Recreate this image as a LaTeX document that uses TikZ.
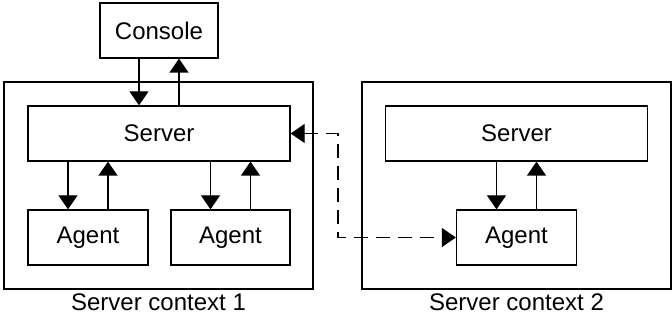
\documentclass[tikz,border=0pt]{standalone}
\usepackage{fontspec}
\setmainfont{Liberation Sans}
\usetikzlibrary{arrows.meta}
\tikzset{
  box/.style     = { draw, line width=1.3pt, minimum height=55pt, inner sep=0pt,
                     font=\fontsize{24}{28}\selectfont },
  context/.style = { draw, line width=1.3pt, minimum width=#1, minimum height=207pt, inner sep=0pt },
  caption/.style = { font=\fontsize{24}{28}\selectfont, inner sep=0pt },
  flow/.style    = { line width=1.3pt, -{Triangle[width=19pt,length=14pt]} },
  remote/.style  = { line width=1.3pt, dash pattern=on 14pt off 8pt,
                     {Triangle[width=19pt,length=14pt]}-{Triangle[width=19pt,length=14pt]} }
}
\begin{document}
\begin{tikzpicture}[x=1pt,y=-1pt]
\useasboundingbox (0,0) rectangle (672,320);
% server contexts
\node[context=309pt] (ctxA) at (158.5,185.5) {};
\node[context=309pt] (ctxB) at (516.5,185.5) {};
\node[caption] (capA) at (158.5,302) {Server context 1};
\node[caption] (capB) at (516.5,302) {Server context 2};
% boxes
\node[box,minimum width=118pt] (console) at (159,30.5) {Console};
\node[box,minimum width=262pt] (serverA) at (159,133.5) {Server};
\node[box,minimum width=262pt] (serverB) at (516.5,133.5) {Server};
\node[box,minimum width=120pt] (agentA) at (88,237.5) {Agent};
\node[box,minimum width=119pt] (agentB) at (230.5,237.5) {Agent};
\node[box,minimum width=120pt] (agentC) at (516.5,237.5) {Agent};
% arrows
\draw[flow] ([xshift=-20pt]console.south) -- ([xshift=-20pt]console.south |- serverA.north);
\draw[flow] ([xshift=20pt]console.south |- serverA.north) -- ([xshift=20pt]console.south);
\foreach \a/\s in {agentA/serverA, agentB/serverA, agentC/serverB} {
  \draw[flow] ([xshift=-20pt]\a.north |- \s.south) -- ([xshift=-20pt]\a.north);
  \draw[flow] ([xshift=20pt]\a.north) -- ([xshift=20pt]\a.north |- \s.south);
}
\coordinate (hop) at (338,185);
\draw[remote] (serverA.east) -| (hop) |- (agentC.west);
\end{tikzpicture}
\end{document}
